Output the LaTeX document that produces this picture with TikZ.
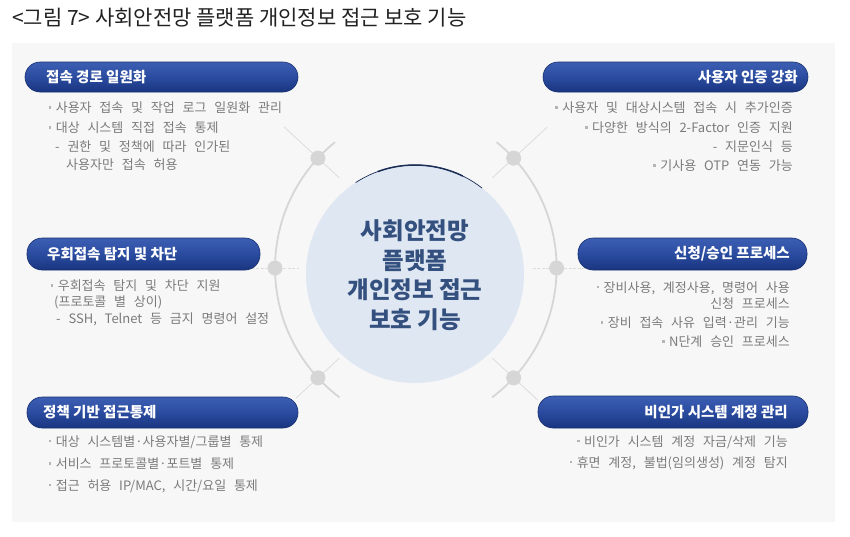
\documentclass[tikz,border=0pt]{standalone}
\usepackage{fontspec}
\setmainfont{Noto Sans CJK KR}
\usetikzlibrary{calc}
\definecolor{panel}{HTML}{F7F7F7}
\definecolor{pilltop}{HTML}{3D5FB3}
\definecolor{pillmid}{HTML}{2A4B9F}
\definecolor{pillbot}{HTML}{1A3580}
\definecolor{pilledge}{HTML}{173070}
\definecolor{itemgray}{HTML}{7B7B7B}
\definecolor{bulgray}{HTML}{B5B5B5}
\definecolor{arcgray}{HTML}{D6D6D6}
\definecolor{spokegray}{HTML}{DDDDDD}
\definecolor{dotgray}{HTML}{D6D6D6}
\definecolor{circfill}{HTML}{DFE7F3}
\definecolor{circtext}{HTML}{34507F}
\definecolor{rim}{HTML}{1D2F57}
\definecolor{titlec}{HTML}{222222}
\newcommand\bul{{\color{bulgray}\rule[0.3em]{2.6pt}{2.6pt}}\hspace{4.5pt}}
\newcommand\itemfont{\fontsize{13}{15}\selectfont\spaceskip=0.6em plus 0.1em\relax}
\tikzset{
  pill/.style={rectangle, rounded corners=15pt, top color=pilltop, bottom color=pillbot, middle color=pillmid, draw=pilledge, line width=0.6pt, minimum height=30pt, inner sep=0pt},
  htext/.style={text=white, font=\fontsize{14.5}{16}\selectfont\bfseries, inner sep=0pt},
  itext/.style={text=itemgray, font=\itemfont, inner sep=0pt},
  arcline/.style={draw=arcgray, line width=1.8pt},
  spoke/.style={draw=spokegray, line width=0.8pt},
  hspoke/.style={draw=spokegray, line width=0.8pt, dash pattern=on 3pt off 1.5pt},
  dotn/.style={circle, fill=dotgray, minimum size=15pt, inner sep=0pt},
}
\begin{document}
\begin{tikzpicture}[x=1pt,y=-1pt]
\useasboundingbox (0,0) rectangle (850,536);
\fill[white] (0,0) rectangle (850,536);
\fill[panel] (12,43) rectangle (835,522);
% title
\node[anchor=west, inner sep=0pt, font=\fontsize{21}{23}\selectfont, text=titlec] (title) at (12,18) {<그림 7> 사회안전망 플랫폼 개인정보 접근 보호 기능};
% arcs
\coordinate (L) at (437,268);
\coordinate (R) at (394.6,268);
\draw[arcline] (L) ++(127:162) arc[start angle=127, end angle=231, radius=162];
\draw[arcline] (R) ++(-51:162) arc[start angle=-51, end angle=53, radius=162];
% spokes
\draw[spoke] ($(L)+(222.7:133)$) -- ($(L)+(222.7:208)$);
\draw[spoke] ($(L)+(137.3:133)$) -- ($(L)+(137.3:192)$);
\draw[spoke] ($(R)+(-42.7:133)$) -- ($(R)+(-42.7:208)$);
\draw[spoke] ($(R)+(42.7:133)$) -- ($(R)+(42.7:195)$);
\draw[hspoke] ($(L)+(180:190)$) -- ($(L)+(180:138)$);
\draw[hspoke] ($(R)+(0:138)$) -- ($(R)+(0:195)$);
% dots
\node[dotn] (dl1) at ($(L)+(222.7:162)$) {};
\node[dotn] (dl2) at ($(L)+(180:162)$) {};
\node[dotn] (dl3) at ($(L)+(137.3:162)$) {};
\node[dotn] (dr1) at ($(R)+(-42.7:162)$) {};
\node[dotn] (dr2) at ($(R)+(0:162)$) {};
\node[dotn] (dr3) at ($(R)+(42.7:162)$) {};
% core circle
\node[circle, fill=circfill, minimum size=218pt, inner sep=0pt] (core) at (415,274) {};
\draw[rim, line width=0.7pt] (core.center) ++(-123:109) arc[start angle=-123, end angle=-52, radius=109];
\draw[rim, line width=1.5pt] (core.center) ++(-110:109) arc[start angle=-110, end angle=-64, radius=109];
\node[align=center, text=circtext, font=\fontsize{23.5}{29.5}\selectfont\bfseries, inner sep=0pt] (coretext) at (415,275) {사회안전망\\플랫폼\\개인정보 접근\\보호 기능};
% pills
\node[pill, minimum width=273pt] (p1) at (161.5,77) {};
\node[htext, anchor=west] (h1) at (46,77) {접속 경로 일원화};
\node[pill, minimum width=265pt] (p2) at (675.5,77) {};
\node[htext, anchor=east] (h2) at (798,77) {사용자 인증 강화};
\node[pill, minimum width=233pt, minimum height=32pt] (p3) at (143.5,254) {};
\node[htext, anchor=west] (h3) at (47,254) {우회접속 탐지 및 차단};
\node[pill, minimum width=229pt, minimum height=32pt] (p4) at (692.5,254) {};
\node[htext, anchor=east] (h4) at (790,254) {신청/승인 프로세스};
\node[pill, minimum width=271pt, minimum height=31pt] (p5) at (162.5,412.5) {};
\node[htext, anchor=west] (h5) at (43,412.5) {정책 기반 접근통제};
\node[pill, minimum width=270pt, minimum height=32pt] (p6) at (673,412) {};
\node[htext, anchor=east] (h6) at (788,412) {비인가 시스템 계정 관리};
% items top-left
\node[itext, anchor=west] (i11) at (48.5,108) {\bul 사용자 접속 및 작업 로그 일원화 관리};
\node[itext, anchor=west] (i12) at (48.5,128) {\bul 대상 시스템 직접 접속 통제};
\node[itext, anchor=west] (i13) at (55,147) {- 권한 및 정책에 따라 인가된};
\node[itext, anchor=west] (i14) at (66,165) {사용자만 접속 허용};
% items top-right
\node[itext, anchor=east] (i21) at (793,108) {\bul 사용자 및 대상시스템 접속 시 추가인증};
\node[itext, anchor=east] (i22) at (793,128) {\bul 다양한 방식의 2-Factor 인증 지원};
\node[itext, anchor=east] (i23) at (793,147) {- 지문인식 등};
\node[itext, anchor=east] (i24) at (793,166) {\bul 기사용 OTP 연동 가능};
% items middle-left
\node[itext, anchor=west] (i31) at (50.5,286) {\bul 우회접속 탐지 및 차단 지원};
\node[itext, anchor=west] (i32) at (54,302) {(프로토콜 별 상이)};
\node[itext, anchor=west] (i33) at (56,319) {- SSH, Telnet 등 금지 명령어 설정};
% items middle-right
\node[itext, anchor=east] (i41) at (790,288) {\bul 장비사용, 계정사용, 명령어 사용};
\node[itext, anchor=east] (i42) at (790,304) {신청 프로세스};
\node[itext, anchor=east] (i43) at (790,323) {\bul 장비 접속 사유 입력·관리 기능};
\node[itext, anchor=east] (i44) at (790,342) {\bul N단계 승인 프로세스};
% items bottom-left
\node[itext, anchor=west] (i51) at (48.5,442) {\bul 대상 시스템별·사용자별/그룹별 통제};
\node[itext, anchor=west] (i52) at (48.5,464) {\bul 서비스 프로토콜별·포트별 통제};
\node[itext, anchor=west] (i53) at (48.5,486) {\bul 접근 허용 IP/MAC, 시간/요일 통제};
% items bottom-right
\node[itext, anchor=east] (i61) at (788,442) {\bul 비인가 시스템 계정 자금/삭제 기능};
\node[itext, anchor=east] (i62) at (788,463) {\bul 휴면 계정, 불법(임의생성) 계정 탐지};
\end{tikzpicture}
\end{document}
